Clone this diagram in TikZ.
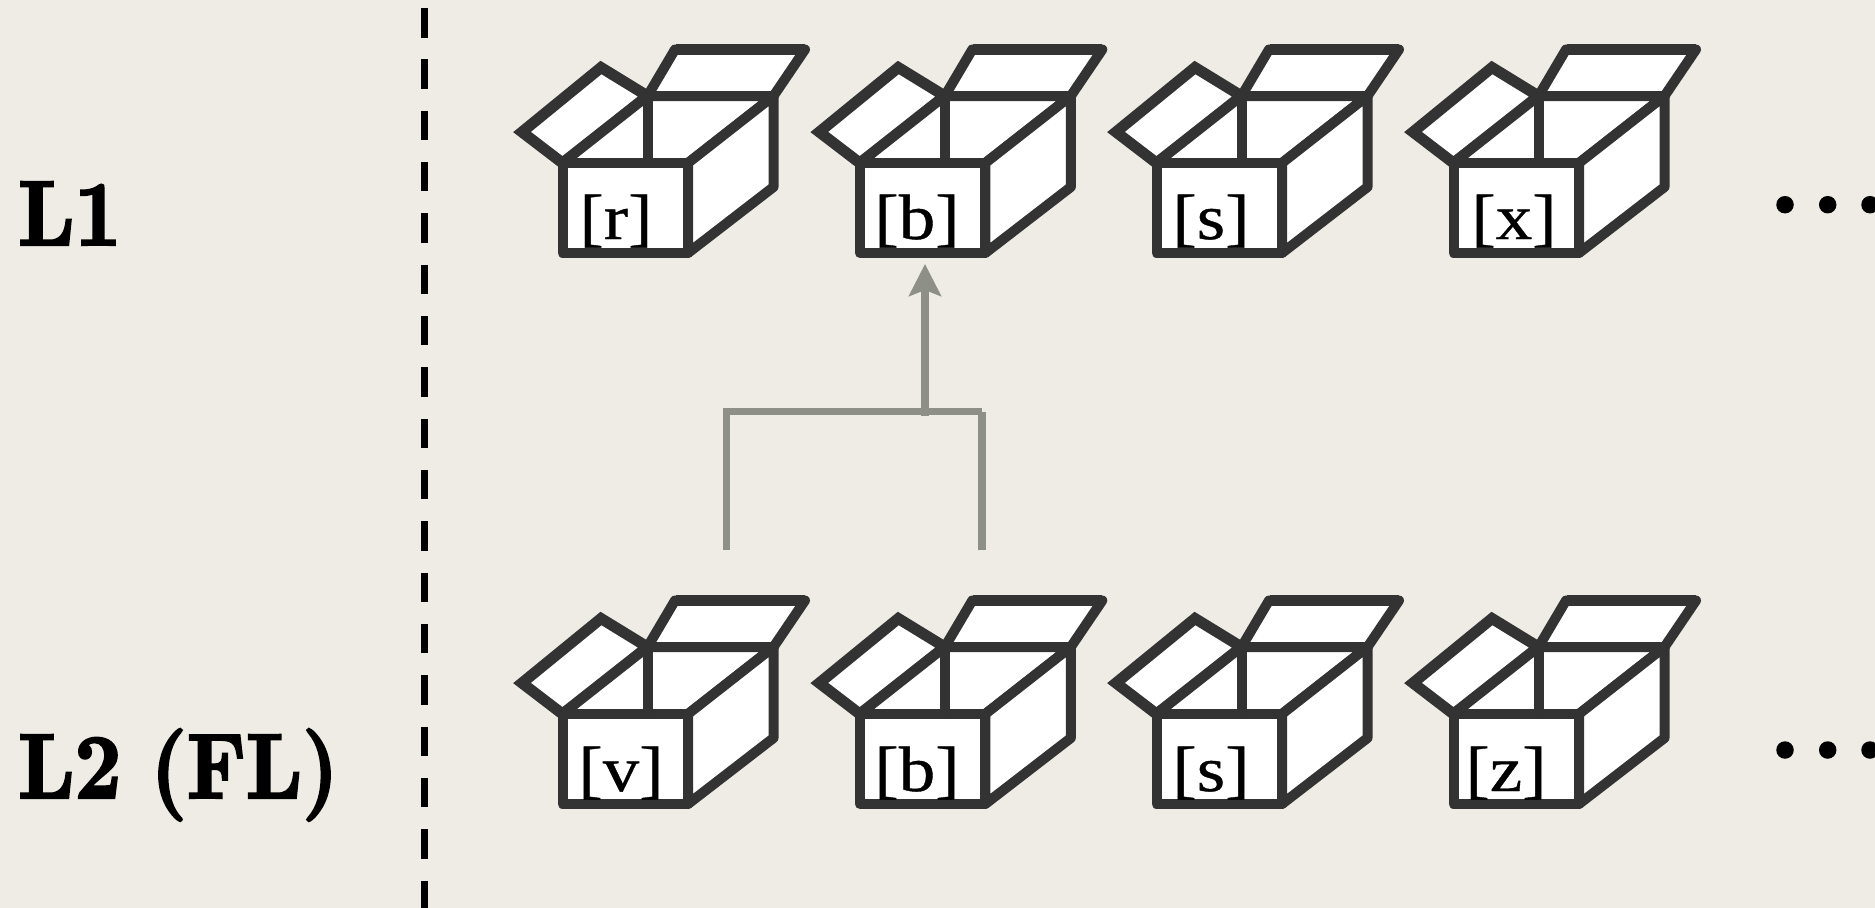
\documentclass[tikz,border=0pt]{standalone}
\usepackage{fontspec}
\usetikzlibrary{arrows.meta}
\newfontfamily\boxfont[FakeStretch=1.14,FakeBold=0.6]{Liberation Serif}
\newfontfamily\lvlfont[Extension=.otf,FakeStretch=0.885,FakeBold=2.6]{lmroman10-bold}
\definecolor{bgc}{HTML}{EEECE4}
\definecolor{boxc}{HTML}{333333}
\definecolor{linkc}{HTML}{8E8F87}
\tikzset{
  x=1pt,y=-1pt,
  boxline/.style={draw=boxc,line width=10pt,line join=round,line cap=round},
  boxlabel/.style={font=\boxfont\fontsize{64}{64}\selectfont,anchor=base,inner sep=0pt,text=black},
  levellabel/.style={font=\lvlfont\fontsize{92}{92}\selectfont,anchor=base west,inner sep=0pt,text=black},
  linkline/.style={draw=linkc,line width=7.5pt},
  dotmark/.style={circle,fill=black,inner sep=0pt,minimum size=17.5pt},
  openbox/.pic={
    \path[boxline,line join=miter,line width=11pt,fill=white] (562.5,163) -- (522,132) -- (601,67.5) -- (647.5,96) -- cycle;
    \path[boxline,fill=white] (647.5,96) -- (675,49.5) -- (805,49.5) -- (773.5,96) -- cycle;
    \path[boxline,line width=11pt,line cap=butt] (676,49.5) -- (805,49.5);
    \path[boxline,fill=white] (562.5,163) -- (647.5,96) -- (773.5,96) -- (688,163) -- cycle;
    \path[boxline,fill=white] (688,163) -- (773.5,96) -- (773.5,187) -- (688,253) -- cycle;
    \path[boxline,fill=white] (562.5,163) -- (688,163) -- (688,253) -- (562.5,253) -- cycle;
    \path[boxline] (647.5,96) -- (647.5,163);
  }
}
\begin{document}
\begin{tikzpicture}
\fill[bgc] (0,0) rectangle (1875,908);
\useasboundingbox (0,0) rectangle (1875,908);
% divider
\coordinate (divtop) at (424.7,8);
\coordinate (divbot) at (424.7,908);
\draw[line width=7pt,black,dash pattern=on 29.5pt off 21.83pt] (divtop) -- (divbot);
% labels
\node[levellabel] (l1) at (18,245) {L1};
\node[levellabel] (l2) at (18,798) {L2\hspace{-2pt} (FL)};
% boxes
\foreach \i/\dx in {a/0,b/297.3,c/594,d/891}{
  \pic (top\i) at (\dx,0) {openbox};
  \pic (bot\i) at (\dx,551) {openbox};
}
\node[boxlabel] (t1) at (616,239) {[r]};
\node[boxlabel] (t2) at (917,239) {[b]};
\node[boxlabel] (t3) at (1211,239) {[s]};
\node[boxlabel] (t4) at (1514,239) {[x]};
\node[boxlabel] (b1) at (621,791) {[v]};
\node[boxlabel] (b2) at (917,791) {[b]};
\node[boxlabel] (b3) at (1211,791) {[s]};
\node[boxlabel] (b4) at (1506,791) {[z]};
% connector
\coordinate (ll) at (726.7,550);
\coordinate (lt) at (726.7,411.7);
\coordinate (rl) at (982,550);
\coordinate (rt) at (982,411.7);
\coordinate (as) at (925,415.7);
\coordinate (ae) at (925,264);
\draw[linkline] (ll) -- (lt);
\draw[linkline] (rl) -- (rt);
\draw[linkline] ([xshift=-3.7pt]lt) -- ([xshift=0.3pt]rt);
\draw[linkline,-{Stealth[length=32pt,width=32pt,inset=6pt]}] (as) -- (ae);
% dots
\foreach \x/\n in {1785/a,1827.7/b,1870/c}{
  \node[dotmark] (dt\n) at (\x,204.7) {};
  \node[dotmark] (db\n) at (\x,750) {};
}
\end{tikzpicture}
\end{document}
